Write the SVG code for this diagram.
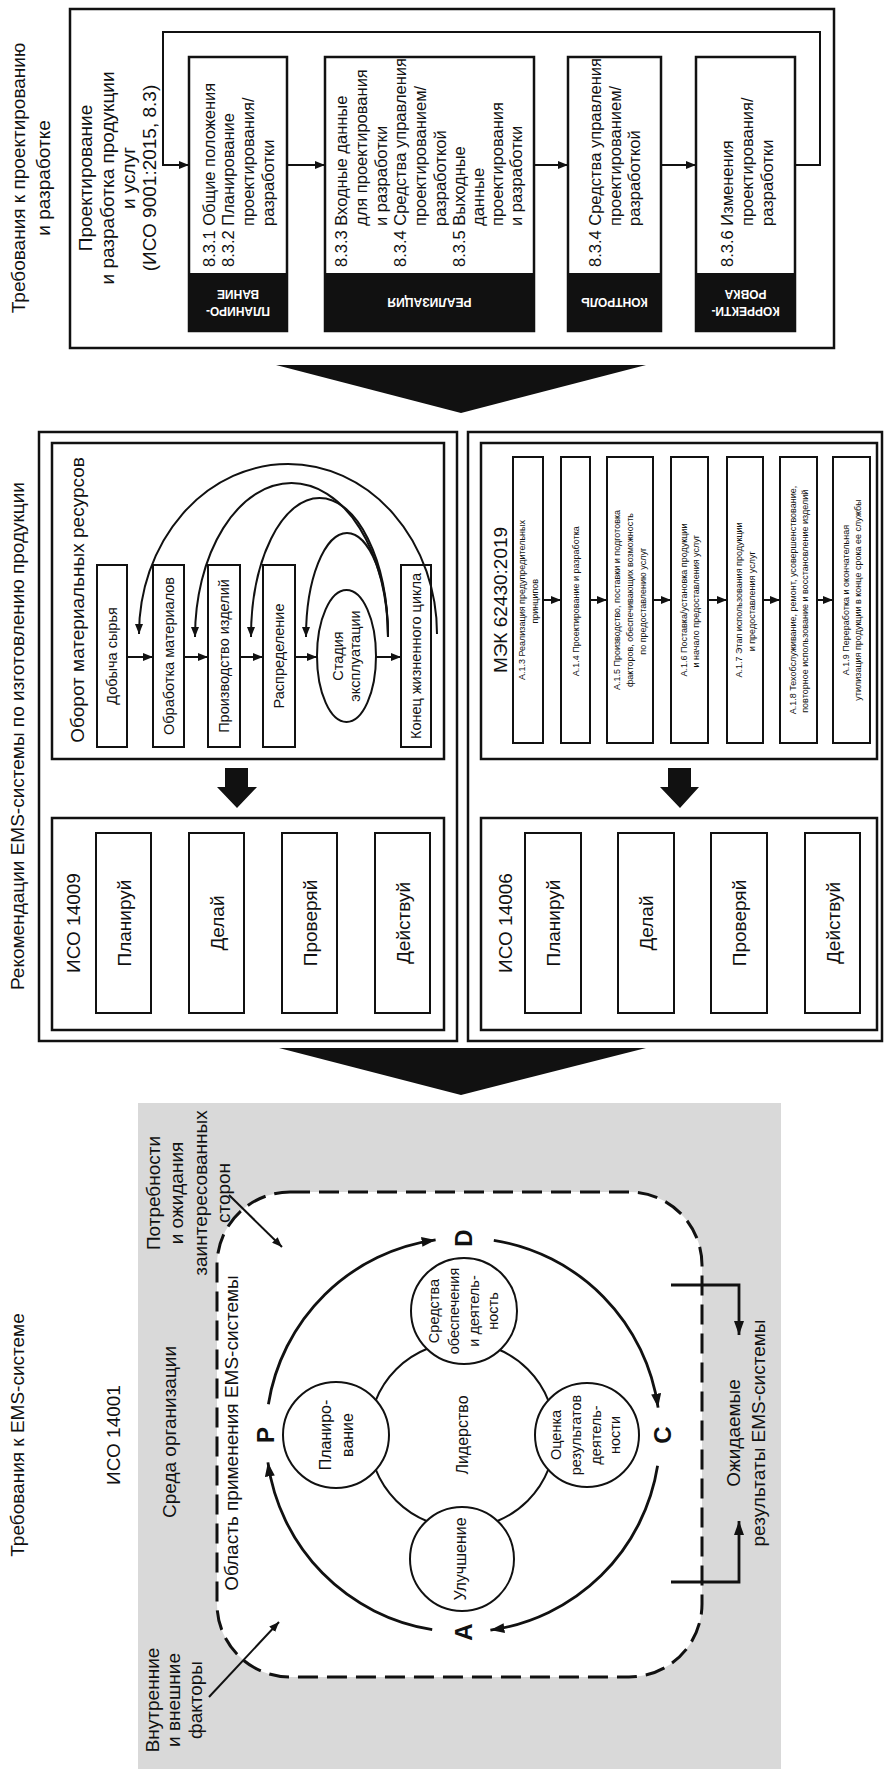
<svg xmlns="http://www.w3.org/2000/svg" width="884" height="1769" viewBox="0 0 884 1769">
<defs>
<style>
text{font-family:"Liberation Sans",Arial,sans-serif;fill:#111;dominant-baseline:central;text-anchor:middle}
.f19{font-size:19px}
.s{font-size:16.5px;text-anchor:start}
.f15{font-size:14.5px}
.f16{font-size:16px}
.f9{font-size:9px}
.lab{font-size:12px;font-weight:bold;fill:#fff}
.big{font-size:24px;font-weight:bold}
.box{fill:#fff;stroke:#111;stroke-width:2.5}
.thin{fill:#fff;stroke:#111;stroke-width:2}
.ln{fill:none;stroke:#111;stroke-width:2}
.ln3{fill:none;stroke:#111;stroke-width:2.8}
.blk{fill:#111}
</style>
<marker id="ah" viewBox="0 0 10 8" refX="10" refY="4" markerWidth="10" markerHeight="8" markerUnits="userSpaceOnUse" orient="auto"><path d="M0,0 L10,4 L0,8 z" fill="#111"/></marker>
<marker id="ahL" viewBox="0 0 14 10" refX="14" refY="5" markerWidth="14" markerHeight="10" markerUnits="userSpaceOnUse" orient="auto"><path d="M0,0 L14,5 L0,10 z" fill="#111"/></marker>
</defs>
<rect width="884" height="1769" fill="#fff"/>

<!-- SECTION 1 -->
<g id="design-title"><text class="f19" transform="translate(0,178) rotate(-90)"><tspan x="0" y="18">Требования к проектированию</tspan><tspan x="0" y="43">и разработке</tspan></text></g>
<g id="design-frame"><rect class="box" x="70" y="9" width="764" height="339"/>
<text class="f19" transform="translate(0,178) rotate(-90)"><tspan x="0" y="85">Проектирование</tspan><tspan x="0" y="107">и разработка продукции</tspan><tspan x="0" y="128">и услуг</tspan><tspan x="0" y="149">(ИСО 9001:2015, 8.3)</tspan></text></g>

<g id="planning"><rect class="box" x="189" y="57" width="98" height="274"/><rect class="blk" x="189" y="273" width="98" height="58"/>
<text class="s" transform="translate(0,267) rotate(-90)"><tspan x="0" y="209">8.3.1 Общие положения</tspan><tspan x="0" y="228">8.3.2 Планирование</tspan><tspan x="41" y="248">проектирования/</tspan><tspan x="41" y="268">разработки</tspan></text>
<text class="lab" transform="translate(238,302) rotate(180)"><tspan x="0" y="-8.5">ПЛАНИРО-</tspan><tspan x="0" y="8.5">ВАНИЕ</tspan></text></g>

<g id="realization"><rect class="box" x="325" y="57" width="209" height="274"/><rect class="blk" x="325" y="273" width="209" height="58"/>
<text class="s" transform="translate(0,267) rotate(-90)"><tspan x="0" y="341">8.3.3 Входные данные</tspan><tspan x="41" y="361">для проектирования</tspan><tspan x="41" y="381">и разработки</tspan><tspan x="0" y="400">8.3.4 Средства управления</tspan><tspan x="41" y="420">проектированием/</tspan><tspan x="41" y="440">разработкой</tspan><tspan x="0" y="459">8.3.5 Выходные</tspan><tspan x="41" y="478">данные</tspan><tspan x="41" y="497">проектирования</tspan><tspan x="41" y="516">и разработки</tspan></text>
<text class="lab" transform="translate(429.5,302) rotate(180)"><tspan x="0" y="0">РЕАЛИЗАЦИЯ</tspan></text></g>

<g id="control"><rect class="box" x="568" y="57" width="93" height="274"/><rect class="blk" x="568" y="273" width="93" height="58"/>
<text class="s" transform="translate(0,267) rotate(-90)"><tspan x="0" y="595">8.3.4 Средства управления</tspan><tspan x="41" y="615">проектированием/</tspan><tspan x="41" y="634">разработкой</tspan></text>
<text class="lab" transform="translate(614.5,302) rotate(180)"><tspan x="0" y="0">КОНТРОЛЬ</tspan></text></g>

<g id="correction"><rect class="box" x="696" y="57" width="99" height="274"/><rect class="blk" x="696" y="273" width="99" height="58"/>
<text class="s" transform="translate(0,267) rotate(-90)"><tspan x="0" y="727">8.3.6 Изменения</tspan><tspan x="41" y="747">проектирования/</tspan><tspan x="41" y="767">разработки</tspan></text>
<text class="lab" transform="translate(745.5,302) rotate(180)"><tspan x="0" y="-8.5">КОРРЕКТИ-</tspan><tspan x="0" y="8.5">РОВКА</tspan></text></g>

<!-- SECTION 2 -->
<g id="ems-title"><text class="f19" transform="translate(0,736) rotate(-90)"><tspan x="0" y="17">Рекомендации EMS-системы по изготовлению продукции</tspan></text></g>
<g id="left-frame"><rect class="box" x="39" y="432" width="418" height="609"/></g>
<g id="right-frame"><rect class="box" x="468" y="432" width="414" height="609"/></g>

<g id="material-flow"><rect class="box" x="52" y="443" width="392" height="316"/>
<text class="f19" transform="translate(0,600) rotate(-90)"><tspan x="0" y="77">Оборот материальных ресурсов</tspan></text></g>
<g id="extraction"><rect class="thin" x="97" y="565" width="30" height="182"/><text class="f15" transform="translate(0,656) rotate(-90)"><tspan x="0" y="112">Добыча сырья</tspan></text></g>
<g id="processing"><rect class="thin" x="153" y="565" width="31" height="182"/><text class="f15" transform="translate(0,656) rotate(-90)"><tspan x="0" y="168.5">Обработка материалов</tspan></text></g>
<g id="manufacturing"><rect class="thin" x="208" y="565" width="32" height="182"/><text class="f15" transform="translate(0,656) rotate(-90)"><tspan x="0" y="224">Производство изделий</tspan></text></g>
<g id="distribution"><rect class="thin" x="263" y="565" width="32" height="182"/><text class="f15" transform="translate(0,656) rotate(-90)"><tspan x="0" y="279">Распределение</tspan></text></g>
<g id="use-stage"><ellipse class="thin" cx="346.5" cy="656" rx="29.5" ry="66"/><text class="f15" transform="translate(0,656) rotate(-90)"><tspan x="0" y="338">Стадия</tspan><tspan x="0" y="355">эксплуатации</tspan></text></g>
<g id="end-of-life"><rect class="thin" x="401" y="565" width="30" height="182"/><text class="f15" transform="translate(0,656) rotate(-90)"><tspan x="0" y="416">Конец жизненного цикла</tspan></text></g>

<g id="iso14009"><rect class="box" x="52" y="818" width="392" height="212"/>
<text class="f19" transform="translate(0,923) rotate(-90)"><tspan x="0" y="73">ИСО 14009</tspan></text>
<rect class="thin" x="96" y="833" width="55" height="180"/><rect class="thin" x="189" y="833" width="55" height="180"/><rect class="thin" x="282" y="833" width="55" height="180"/><rect class="thin" x="375" y="833" width="55" height="180"/>
<text class="f19" transform="translate(0,923) rotate(-90)"><tspan x="0" y="123.5">Планируй</tspan><tspan x="0" y="216.5">Делай</tspan><tspan x="0" y="309.5">Проверяй</tspan><tspan x="0" y="402.5">Действуй</tspan></text></g>

<g id="iec62430"><rect class="box" x="481" y="443" width="396" height="316"/>
<text class="f19" transform="translate(0,600) rotate(-90)"><tspan x="0" y="500">МЭК 62430:2019</tspan></text>
<rect class="thin" x="513" y="457" width="30" height="286"/><rect class="thin" x="561" y="457" width="29" height="286"/><rect class="thin" x="607" y="457" width="46" height="286"/><rect class="thin" x="671" y="457" width="37" height="286"/><rect class="thin" x="727" y="457" width="36" height="286"/><rect class="thin" x="780" y="457" width="37" height="286"/><rect class="thin" x="833" y="457" width="37" height="286"/>
<text class="f9" transform="translate(0,600) rotate(-90)"><tspan x="0" y="522">А.1.3 Реализация предупредительных</tspan><tspan x="0" y="535">принципов</tspan>
<tspan x="0" y="575.5">А.1.4 Проектирование и разработка</tspan>
<tspan x="0" y="617">А.1.5 Производство, поставки и подготовка</tspan><tspan x="0" y="630">факторов, обеспечивающих возможность</tspan><tspan x="0" y="643">по предоставлению услуг</tspan>
<tspan x="0" y="683.5">А.1.6 Поставка/установка продукции</tspan><tspan x="0" y="696">и начало предоставления услуг</tspan>
<tspan x="0" y="739">А.1.7 Этап использования продукции</tspan><tspan x="0" y="751.5">и предоставления услуг</tspan>
<tspan x="0" y="792.5">А.1.8 Техобслуживание, ремонт, усовершенствование,</tspan><tspan x="0" y="805">повторное использование и восстановление изделий</tspan>
<tspan x="0" y="845.5">А.1.9 Переработка и окончательная</tspan><tspan x="0" y="858">утилизация продукции в конце срока ее службы</tspan></text></g>

<g id="iso14006"><rect class="box" x="481" y="818" width="396" height="212"/>
<text class="f19" transform="translate(0,923) rotate(-90)"><tspan x="0" y="505">ИСО 14006</tspan></text>
<rect class="thin" x="525" y="833" width="56" height="180"/><rect class="thin" x="618" y="833" width="56" height="180"/><rect class="thin" x="711" y="833" width="56" height="180"/><rect class="thin" x="805" y="833" width="55" height="180"/>
<text class="f19" transform="translate(0,923) rotate(-90)"><tspan x="0" y="553">Планируй</tspan><tspan x="0" y="646">Делай</tspan><tspan x="0" y="739">Проверяй</tspan><tspan x="0" y="832.5">Действуй</tspan></text></g>

<!-- SECTION 3 -->
<g id="ems-req-title"><text class="f19" transform="translate(0,1435) rotate(-90)"><tspan x="0" y="17">Требования к EMS-системе</tspan><tspan x="0" y="113">ИСО 14001</tspan></text></g>
<g id="context"><rect x="138" y="1103" width="643" height="666" fill="#d9d9d9"/>
<text class="f19" transform="translate(0,1432) rotate(-90)"><tspan x="0" y="169">Среда организации</tspan></text>
<text class="f19" transform="translate(0,1193) rotate(-90)"><tspan x="0" y="153">Потребности</tspan><tspan x="0" y="176">и ожидания</tspan><tspan x="0" y="200">заинтересованных</tspan><tspan x="0" y="223">сторон</tspan></text>
<text class="f19" transform="translate(0,1700) rotate(-90)"><tspan x="0" y="152">Внутренние</tspan><tspan x="0" y="173">и внешние</tspan><tspan x="0" y="195">факторы</tspan></text>
<text class="f19" transform="translate(0,1433) rotate(-90)"><tspan x="0" y="733">Ожидаемые</tspan><tspan x="0" y="758">результаты EMS-системы</tspan></text></g>
<g id="scope"><rect x="217" y="1192" width="485" height="485" rx="73" fill="#fff" stroke="#111" stroke-width="3" stroke-dasharray="20 9"/>
<text class="f19" transform="translate(0,1433) rotate(-90)"><tspan x="0" y="231">Область применения EMS-системы</tspan></text></g>

<g id="pdca-connectors">
<path class="ln3" d="M268.4,1404.2 A197,197 0 0 1 435.6,1239.9" marker-end="url(#ahL)"/>
<path class="ln3" d="M493.8,1240.4 A197,197 0 0 1 658.1,1407.6" marker-end="url(#ahL)"/>
<path class="ln3" d="M657.6,1465.8 A197,197 0 0 1 490.4,1630.1" marker-end="url(#ahL)"/>
<path class="ln3" d="M432.2,1629.6 A197,197 0 0 1 267.9,1462.4" marker-end="url(#ahL)"/>
<circle cx="462" cy="1435" r="93" fill="none" stroke="#111" stroke-width="2"/>
</g>
<g id="pdca-letters"><text class="big" transform="translate(0,1435) rotate(-90)"><tspan x="0" y="265">P</tspan><tspan x="0" y="662">C</tspan></text>
<text class="big" transform="translate(0,1238) rotate(-90)"><tspan x="0" y="463">D</tspan></text>
<text class="big" transform="translate(0,1632) rotate(-90)"><tspan x="0" y="463">A</tspan></text></g>
<g id="leadership"><text class="f16" transform="translate(0,1435) rotate(-90)"><tspan x="0" y="462">Лидерство</tspan></text></g>
<g id="plan"><circle class="thin" cx="336" cy="1435" r="53"/><text class="f16" transform="translate(0,1435) rotate(-90)"><tspan x="0" y="325">Планиро-</tspan><tspan x="0" y="347">вание</tspan></text></g>
<g id="support"><circle class="thin" cx="464" cy="1311" r="53"/><text class="f15" transform="translate(0,1311) rotate(-90)"><tspan x="0" y="434">Средства</tspan><tspan x="0" y="454">обеспечения</tspan><tspan x="0" y="474">и деятель-</tspan><tspan x="0" y="493">ность</tspan></text></g>
<g id="evaluation"><circle class="thin" cx="587" cy="1435" r="52"/><text class="f15" transform="translate(0,1435) rotate(-90)"><tspan x="0" y="556">Оценка</tspan><tspan x="0" y="576">результатов</tspan><tspan x="0" y="596">деятель-</tspan><tspan x="0" y="615">ности</tspan></text></g>
<g id="improvement"><circle class="thin" cx="462" cy="1559" r="52"/><text class="f16" transform="translate(0,1559) rotate(-90)"><tspan x="0" y="460">Улучшение</tspan></text></g>

<!-- CONNECTORS -->
<g id="connectors">
<path class="ln" d="M287,165 H325" marker-end="url(#ah)"/>
<path class="ln" d="M534,165 H568" marker-end="url(#ah)"/>
<path class="ln" d="M661,165 H696" marker-end="url(#ah)"/>
<path class="ln" d="M795,165 H820 V32 H163 V165 H189" marker-end="url(#ah)"/>
<polygon class="blk" points="276,365 646,365 461,413"/>
<polygon class="blk" points="279,1048 646,1048 461,1095"/>
<polygon class="blk" points="225,768 248,768 248,787 257,787 237,808 217,787 225,787"/>
<polygon class="blk" points="668,768 691,768 691,787 699,787 680,808 660,787 668,787"/>
<path class="ln" d="M127,657 H153" marker-end="url(#ah)"/>
<path class="ln" d="M184,657 H208" marker-end="url(#ah)"/>
<path class="ln" d="M240,657 H263" marker-end="url(#ah)"/>
<path class="ln" d="M295,657 H317" marker-end="url(#ah)"/>
<path class="ln" d="M376,657 H401" marker-end="url(#ah)"/>
<path class="ln" d="M437,634 A149,170 0 0 0 139,634" marker-end="url(#ah)"/>
<path class="ln" d="M388,637 A96.5,154 0 0 0 195,637" marker-end="url(#ah)"/>
<path class="ln" d="M388,637 A68.5,139 0 0 0 251,637" marker-end="url(#ah)"/>
<path class="ln" d="M388,637 A41,104 0 0 0 306,637" marker-end="url(#ah)"/>
<path class="ln" d="M543,600 H561" marker-end="url(#ah)"/>
<path class="ln" d="M590,600 H607" marker-end="url(#ah)"/>
<path class="ln" d="M653,600 H671" marker-end="url(#ah)"/>
<path class="ln" d="M708,600 H727" marker-end="url(#ah)"/>
<path class="ln" d="M763,600 H780" marker-end="url(#ah)"/>
<path class="ln" d="M817,600 H833" marker-end="url(#ah)"/>
<path class="ln" d="M229,1195 L282,1247" marker-end="url(#ah)"/>
<path class="ln" d="M209,1697 L279,1622" marker-end="url(#ah)"/>
<path class="ln3" d="M671,1285 H739 V1335" marker-end="url(#ahL)"/>
<path class="ln3" d="M671,1582 H739 V1521" marker-end="url(#ahL)"/>
</g>
</svg>
